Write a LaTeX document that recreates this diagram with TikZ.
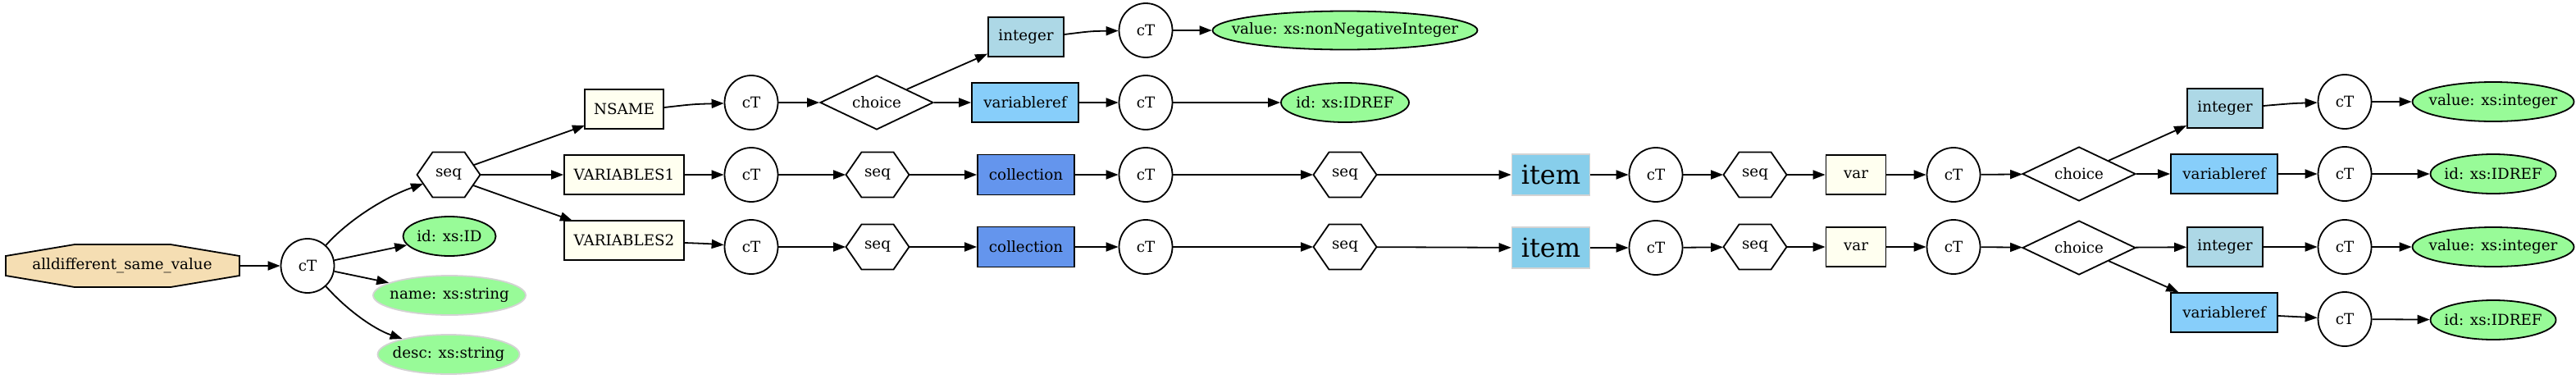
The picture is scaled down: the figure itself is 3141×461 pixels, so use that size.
\documentclass[tikz,border=0pt]{standalone}
\usepackage{fontspec}
\setmainfont{DejaVu Serif}
\usetikzlibrary{shapes.geometric,arrows.meta}
\definecolor{cwheat}{HTML}{F5DEB3}
\definecolor{civory}{HTML}{FFFFF0}
\definecolor{clightblue}{HTML}{ADD8E6}
\definecolor{clskyblue}{HTML}{87CEFA}
\definecolor{ccorn}{HTML}{6495ED}
\definecolor{cskyblue}{HTML}{87CEEB}
\definecolor{cpalegreen}{HTML}{98FB98}
\definecolor{clgray}{HTML}{D3D3D3}
\newcommand\hexat[2]{%
  \node[hexbox] (#1) at (#2) {seq};
  \draw[hexline] ([shift={(-38.5,0)}]#1.center) -- ([shift={(-19.5,-27.5)}]#1.center)
    -- ([shift={(19.5,-27.5)}]#1.center) -- ([shift={(38.5,0)}]#1.center)
    -- ([shift={(19.5,27.5)}]#1.center) -- ([shift={(-19.5,27.5)}]#1.center) -- cycle;}
\newcommand\ztext[1]{\makebox[0pt]{#1}}
\begin{document}
\begin{tikzpicture}[x=0.5pt,y=-0.5pt,
  font=\fontsize{9.15}{11}\selectfont,
  lw/.style={line width=0.9pt},
  ct/.style={ellipse, draw, lw, minimum width=32.5pt, minimum height=33pt, inner sep=0pt},
  boxn/.style={rectangle, draw, lw, inner sep=0pt, minimum height=24pt},
  ivorybox/.style={boxn, fill=civory},
  intbox/.style={boxn, fill=clightblue, minimum width=46pt},
  vrefbox/.style={boxn, fill=clskyblue, minimum width=65pt},
  collbox/.style={boxn, fill=ccorn, minimum width=59pt, minimum height=24.5pt},
  itembox/.style={rectangle, draw=clgray, lw, fill=cskyblue, inner sep=0pt, minimum width=47.5pt, minimum height=25pt, font=\fontsize{16}{18}\selectfont},
  attr/.style={ellipse, draw, lw, fill=cpalegreen, inner sep=0pt, minimum height=24pt},
  attrg/.style={attr, draw=clgray},
  choicen/.style={diamond, draw, lw, inner sep=0pt, minimum width=69pt, minimum height=33pt},
  hexbox/.style={rectangle, inner sep=0pt, minimum width=38.5pt, minimum height=27.5pt},
  hexline/.style={draw, lw, line join=miter},
  conn/.style={draw, line width=0.9pt, -{Triangle[length=7.5pt,width=5.5pt]}}
  ]
\path[use as bounding box] (0,0) rectangle (3141,461);
% root octagon
\coordinate (rc) at (149,324);
\draw[lw, fill=cwheat] ([shift={(-142,-12)}]rc) -- ([shift={(-58,-26)}]rc) -- ([shift={(59,-26)}]rc)
  -- ([shift={(143,-12)}]rc) -- ([shift={(143,12)}]rc) -- ([shift={(59,26)}]rc)
  -- ([shift={(-58,26)}]rc) -- ([shift={(-142,12)}]rc) -- cycle;
\node[rectangle, inner sep=0pt, minimum width=142.5pt, minimum height=25.5pt] (root) at (rc) {alldifferent\_same\_value};
\node[ct] (ct1) at (375,324) {\ztext{cT}};
\hexat{seq1}{547,213}
\node[attr, minimum width=56.5pt] (idID) at (548,288) {\ztext{id: xs:ID}};
\node[attrg, minimum width=93pt] (nm) at (548,360) {\ztext{name: xs:string}};
\node[attrg, minimum width=86.5pt] (ds) at (547,432) {\ztext{desc: xs:string}};
% NSAME branch
\node[ivorybox, minimum width=48pt] (nsame) at (761,133) {NSAME};
\node[ct] (ct2) at (916,125) {\ztext{cT}};
\node[choicen] (ch1) at (1069,125) {\ztext{choice}};
\node[intbox] (int1) at (1251,45) {integer};
\node[ct] (ct3) at (1397,37) {\ztext{cT}};
\node[attr, minimum width=161.5pt, minimum height=23.5pt] (val1) at (1640,37) {\ztext{value: xs:nonNegativeInteger}};
\node[vrefbox] (vr1) at (1250,125) {variableref};
\node[ct] (ct4) at (1397,125) {\ztext{cT}};
\node[attr, minimum width=78pt] (idr1) at (1640,125) {\ztext{id: xs:IDREF}};
% VARIABLES1 row
\node[ivorybox, minimum width=73pt] (v1) at (761,213) {VARIABLES1};
\node[ct] (ct5) at (916,213) {\ztext{cT}};
\hexat{seq2}{1070,213}
\node[collbox] (col1) at (1251,213) {collection};
\node[ct] (ct6) at (1397,213) {\ztext{cT}};
\hexat{seq3}{1640,213}
\node[itembox] (it1) at (1891,213) {item};
\node[ct] (ct7) at (2019,213) {\ztext{cT}};
\hexat{seq4}{2140,213}
\node[ivorybox, minimum width=36.5pt] (va1) at (2263,213) {var};
\node[ct] (ct8) at (2382,213) {\ztext{cT}};
\node[choicen] (ch2) at (2535,212) {\ztext{choice}};
\node[intbox] (int2) at (2713,132) {integer};
\node[ct] (ct9) at (2859,124) {\ztext{cT}};
\node[attr, minimum width=98.5pt] (val2) at (3040,124) {\ztext{value: xs:integer}};
\node[vrefbox] (vr2) at (2712,212) {variableref};
\node[ct] (ct10) at (2859,212) {\ztext{cT}};
\node[attr, minimum width=76.5pt] (idr2) at (3040,212) {\ztext{id: xs:IDREF}};
% VARIABLES2 row
\node[ivorybox, minimum width=73pt] (v2) at (761,293) {VARIABLES2};
\node[ct] (ct11) at (916,301) {\ztext{cT}};
\hexat{seq5}{1070,301}
\node[collbox] (col2) at (1251,301) {collection};
\node[ct] (ct12) at (1397,301) {\ztext{cT}};
\hexat{seq6}{1640,301}
\node[itembox] (it2) at (1891,302) {item};
\node[ct] (ct13) at (2019,302) {\ztext{cT}};
\hexat{seq7}{2140,301}
\node[ivorybox, minimum width=36.5pt] (va2) at (2263,301) {var};
\node[ct] (ct14) at (2382,301) {\ztext{cT}};
\node[choicen] (ch3) at (2535,302) {\ztext{choice}};
\node[intbox] (int3) at (2713,301) {integer};
\node[ct] (ct15) at (2859,301) {\ztext{cT}};
\node[attr, minimum width=98.5pt] (val3) at (3040,301) {\ztext{value: xs:integer}};
\node[vrefbox] (vr3) at (2712,381) {variableref};
\node[ct] (ct16) at (2859,389) {\ztext{cT}};
\node[attr, minimum width=76.5pt] (idr3) at (3040,390) {\ztext{id: xs:IDREF}};
% edges
\draw[conn] (root) -- (ct1);
\draw[conn] (ct1) .. controls (425,268) and (470,240) .. ([shift={(-31,11)}]seq1.center);
\draw[conn] (ct1) -- (idID);
\draw[conn] (ct1) -- (nm);
\draw[conn] (ct1) .. controls (425,380) and (458,402) .. (ds);
\draw[conn] ([shift={(31,-12)}]seq1.center) -- ([shift={(-48,20)}]nsame.center);
\draw[conn] (seq1) -- (v1);
\draw[conn] ([shift={(30,13)}]seq1.center) -- ([shift={(-63,-24)}]v2.center);
\draw[conn] ([shift={(0,-2)}]nsame.east) .. controls (845,127) .. (ct2);
\draw[conn] (ct2) -- (ch1);
\draw[conn] (ch1) -- (int1);
\draw[conn] (ch1) -- (vr1);
\draw[conn] ([shift={(0,-3)}]int1.east) .. controls (1330,38) .. (ct3);
\draw[conn] (ct3) -- (val1);
\draw[conn] (vr1) -- (ct4);
\draw[conn] (ct4) -- (idr1);
\draw[conn] (v1) -- (ct5);
\draw[conn] (ct5) -- (seq2);
\draw[conn] (seq2) -- (col1);
\draw[conn] (col1) -- (ct6);
\draw[conn] (ct6) -- (seq3);
\draw[conn] (seq3) -- (it1);
\draw[conn] (it1) -- (ct7);
\draw[conn] (ct7) -- (seq4);
\draw[conn] (seq4) -- (va1);
\draw[conn] (va1) -- (ct8);
\draw[conn] (ct8) -- (ch2);
\draw[conn] (ch2) -- (int2);
\draw[conn] (ch2) -- (vr2);
\draw[conn] ([shift={(0,-3)}]int2.east) .. controls (2795,126) .. (ct9);
\draw[conn] (ct9) -- (val2);
\draw[conn] (vr2) -- (ct10);
\draw[conn] (ct10) -- (idr2);
\draw[conn] ([shift={(0,3)}]v2.east) .. controls (862,297) .. (ct11);
\draw[conn] (ct11) -- (seq5);
\draw[conn] (seq5) -- (col2);
\draw[conn] (col2) -- (ct12);
\draw[conn] (ct12) -- (seq6);
\draw[conn] (seq6) -- (it2);
\draw[conn] (it2) -- (ct13);
\draw[conn] (ct13) -- (seq7);
\draw[conn] (seq7) -- (va2);
\draw[conn] (va2) -- (ct14);
\draw[conn] (ct14) -- (ch3);
\draw[conn] (ch3) -- (int3);
\draw[conn] (ch3) -- (vr3);
\draw[conn] (int3) -- (ct15);
\draw[conn] (ct15) -- (val3);
\draw[conn] ([shift={(0,4)}]vr3.east) -- (ct16);
\draw[conn] (ct16) -- (idr3);
\end{tikzpicture}
\end{document}
